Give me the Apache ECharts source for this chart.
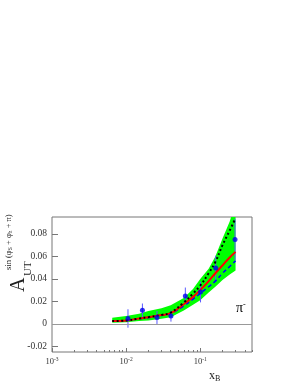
<!DOCTYPE html>
<html>
<head>
<meta charset="utf-8">
<script src="https://cdn.jsdelivr.net/npm/echarts@6/dist/echarts.min.js"></script>
<style>html,body{margin:0;padding:0;background:#fff;}#c{width:300px;height:388px;}</style>
</head>
<body>
<div id="c"></div>
<script>
// ---- data ----
const xGrid     = [0.0065, 0.01, 0.015, 0.02, 0.03, 0.04, 0.06, 0.08, 0.1, 0.13, 0.16, 0.2, 0.25, 0.3];
const central   = [0.0025, 0.003, 0.0048, 0.0058, 0.0078, 0.0095, 0.0175, 0.024, 0.030, 0.038, 0.045, 0.052, 0.059, 0.064];
const bandUpper = [0.0055, 0.007, 0.009, 0.0115, 0.014, 0.0165, 0.023, 0.031, 0.040, 0.049, 0.060, 0.076, 0.091, 0.108];
const bandLower = [0.001, 0.0015, 0.0025, 0.003, 0.0045, 0.006, 0.012, 0.017, 0.021, 0.028, 0.033, 0.039, 0.044, 0.0475];
const dotted    = [0.0025, 0.003, 0.0048, 0.006, 0.008, 0.010, 0.019, 0.027, 0.034, 0.045, 0.055, 0.070, 0.083, 0.094];
const dashed    = [0.0025, 0.003, 0.0046, 0.0055, 0.0075, 0.009, 0.016, 0.022, 0.027, 0.033, 0.038, 0.045, 0.051, 0.056];

const ptX   = [0.0106, 0.0166, 0.0261, 0.0403, 0.063, 0.101, 0.162, 0.295];
const ptY   = [0.0048, 0.0121, 0.0057, 0.0070, 0.0248, 0.0283, 0.0496, 0.0750];
const ptErr = [0.0082, 0.0060, 0.0058, 0.0050, 0.0075, 0.0092, 0.0110, 0.0185];

const xMajorTicks = [0.001, 0.01, 0.1];
const xMinorTicks = [0.002,0.003,0.004,0.005,0.006,0.007,0.008,0.009,
                     0.02,0.03,0.04,0.05,0.06,0.07,0.08,0.09,
                     0.2,0.3,0.4,0.5];
const yTicks = [-0.02, 0, 0.02, 0.04, 0.06, 0.08];

const serif = '"Liberation Serif", "DejaVu Serif", serif';
const pair = (ys) => xGrid.map((x, i) => [x, ys[i]]);

const chart = echarts.init(document.getElementById('c'), null, {renderer: 'canvas'});
chart.setOption({
  animation: false,
  backgroundColor: '#fff',
  grid: {left: 52, top: 217, right: 48, bottom: 36, show: true, borderColor: '#777', borderWidth: 1, backgroundColor: 'transparent'},
  xAxis: [{
    type: 'log', logBase: 10, min: 0.001, max: 0.5, position: 'bottom',
    axisLine: {show: false, onZero: false},
    splitLine: {show: false},
    axisTick: {show: true, inside: true, length: 4, customValues: xMajorTicks, lineStyle: {color: '#777'}},
    axisLabel: {
      customValues: xMajorTicks, margin: 5,
      formatter: v => '{b|10}{s|' + Math.round(Math.log10(v)) + '}',
      rich: {
        b: {fontFamily: serif, fontSize: 8.5, color: '#333', lineHeight: 10},
        s: {fontFamily: serif, fontSize: 5.5, color: '#333', lineHeight: 6, verticalAlign: 'top'}
      }
    }
  }, {
    type: 'log', logBase: 10, min: 0.001, max: 0.5, position: 'bottom',
    axisLine: {show: false, onZero: false}, splitLine: {show: false},
    axisLabel: {show: false},
    axisTick: {show: true, inside: true, length: 2, customValues: xMinorTicks, lineStyle: {color: '#777'}}
  }],
  yAxis: {
    type: 'value', min: -0.025, max: 0.095,
    axisLine: {show: false, onZero: false}, splitLine: {show: false},
    axisTick: {show: true, inside: true, length: 6, customValues: yTicks, lineStyle: {color: '#777'}},
    axisLabel: {
      customValues: yTicks, margin: 5,
      fontFamily: serif, fontSize: 9.5, color: '#333',
      formatter: v => (Math.abs(v) < 1e-9 ? '0' : v.toFixed(2))
    }
  },
  series: [
    {
      // zero reference line
      name: 'zero', type: 'line', symbol: 'none', data: [], z: 1,
      markLine: {silent: true, symbol: 'none', label: {show: false},
        lineStyle: {color: '#999', width: 1, type: 'solid'}, data: [{yAxis: 0}]}
    },
    {
      // green error band between bandLower and bandUpper
      name: 'band', type: 'custom', clip: true, z: 2,
      data: xGrid.map((x, i) => [x, bandLower[i], bandUpper[i]]),
      encode: {x: 0, y: [1, 2]},
      renderItem: (params, api) => {
        if (params.dataIndex !== 0) return null;
        const pts = [];
        for (let i = 0; i < xGrid.length; i++) pts.push(api.coord([xGrid[i], bandUpper[i]]));
        for (let i = xGrid.length - 1; i >= 0; i--) pts.push(api.coord([xGrid[i], bandLower[i]]));
        return {type: 'polygon', shape: {points: pts}, style: {fill: '#00ff00', stroke: null}};
      }
    },
    {
      name: 'errors', type: 'custom', clip: true, z: 4,
      data: ptX.map((x, i) => [x, ptY[i], ptErr[i]]),
      encode: {x: 0, y: 1},
      renderItem: (params, api) => {
        const x = api.value(0), y = api.value(1), e = api.value(2);
        const p1 = api.coord([x, y - e]), p2 = api.coord([x, y + e]);
        return {type: 'line', shape: {x1: p1[0], y1: p1[1], x2: p2[0], y2: p2[1]},
                style: {stroke: '#5a5aff', lineWidth: 1}};
      }
    },
    {
      name: 'dashed', type: 'line', symbol: 'none', smooth: 0.4, data: pair(dashed), z: 5,
      lineStyle: {color: '#0000ff', width: 1.5, type: [4, 3]}
    },
    {
      name: 'central', type: 'line', symbol: 'none', smooth: 0.4, data: pair(central), z: 6,
      lineStyle: {color: '#ff0000', width: 2}
    },
    {
      name: 'dotted', type: 'line', symbol: 'none', smooth: 0.4, data: pair(dotted), z: 7,
      lineStyle: {color: '#000000', width: 2, type: [2, 2.5]}
    },
    {
      name: 'points', type: 'scatter', symbol: 'circle', symbolSize: 5, z: 8,
      data: ptX.map((x, i) => [x, ptY[i]]),
      itemStyle: {color: '#0000ee'}
    }
  ],
  graphic: [
    {
      type: 'group', x: 19, y: 292, rotation: Math.PI / 2,
      children: [
        {type: 'text', x: 0, y: 0, style: {text: 'A', font: '20px ' + serif, fill: '#222', verticalAlign: 'middle', align: 'left'}},
        {type: 'text', x: 16, y: 9, style: {text: 'UT', font: '11px ' + serif, fill: '#222', verticalAlign: 'middle', align: 'left'}},
        {type: 'text', x: 22, y: -10, style: {
          text: 'sin (φ{sub|S} + φ{sub|h} + π)', fill: '#222', verticalAlign: 'middle', align: 'left',
          font: '8.5px ' + serif,
          rich: {sub: {fontFamily: serif, fontSize: 5.5, fill: '#222', lineHeight: 6, verticalAlign: 'bottom'}}
        }}
      ]
    },
    {
      type: 'text', x: 209, y: 369,
      style: {text: '{x|x}{b|B}', fill: '#222',
        rich: {
          x: {fontFamily: serif, fontSize: 12, fill: '#222', lineHeight: 14},
          b: {fontFamily: serif, fontSize: 8, fill: '#222', lineHeight: 7, verticalAlign: 'bottom'}
        }}
    },
    {
      type: 'text', x: 236, y: 301,
      style: {text: '{p|π}{s|-}', fill: '#000',
        rich: {
          p: {fontFamily: serif, fontSize: 14, fill: '#000', lineHeight: 15},
          s: {fontFamily: serif, fontSize: 8, fill: '#000', lineHeight: 7, verticalAlign: 'top'}
        }}
    }
  ]
});
</script>
</body>
</html>
